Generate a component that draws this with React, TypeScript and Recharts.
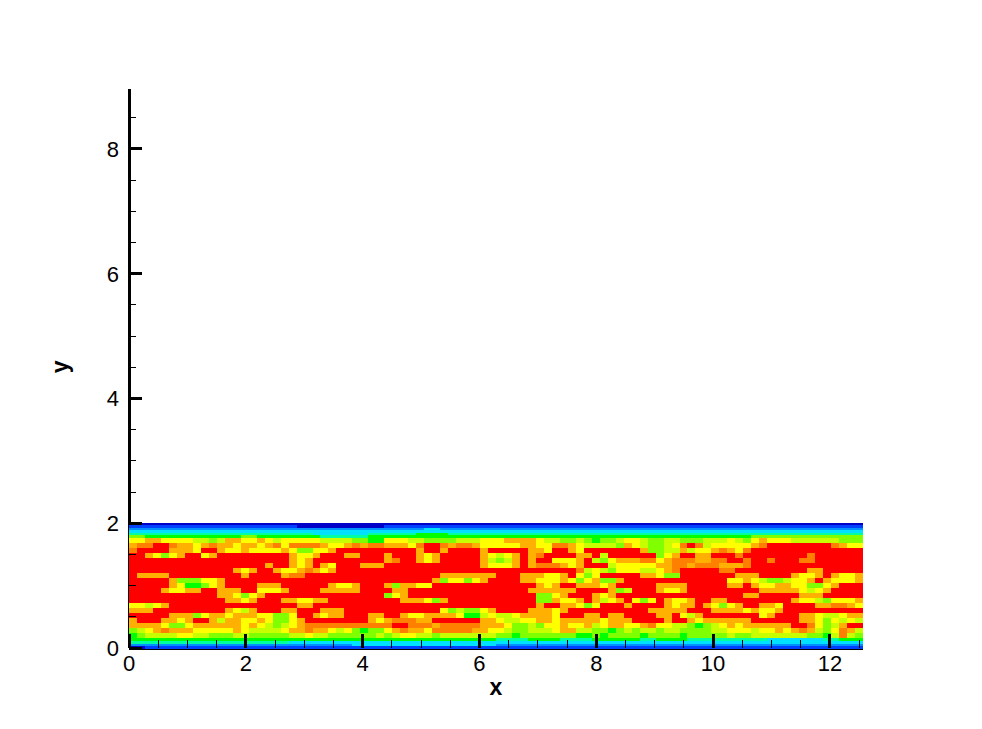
import React from 'react';
import { Scatter, ScatterChart, XAxis, YAxis } from 'recharts';

const CHART_WIDTH = 982;
const CHART_HEIGHT = 729;
const margins = { top: 89, right: 119, bottom: 80, left: 128 };
const PLOT_WIDTH = 734;
const PLOT_HEIGHT = 559;
const X_END = 12.566;
const Y_TOP = 8.96;
const COLUMNS = 92;
const FONT = '"Liberation Sans", Arial, sans-serif';

const xTicks = [0, 0.5, 1, 1.5, 2, 2.5, 3, 3.5, 4, 4.5, 5, 5.5, 6, 6.5, 7, 7.5, 8, 8.5, 9, 9.5, 10, 10.5, 11, 11.5, 12, 12.5];
const yTicks = [0, 0.5, 1, 1.5, 2, 2.5, 3, 3.5, 4, 4.5, 5, 5.5, 6, 6.5, 7, 7.5, 8, 8.5];

const levelColors: Record<string, string> = {
  D: '#0000c8',
  B: '#0040ff',
  Z: '#0090ff',
  C: '#00e0ff',
  S: '#00ffa0',
  G: '#00ff00',
  L: '#80ff00',
  K: '#c8ff00',
  Y: '#ffff00',
  A: '#ffb000',
  O: '#ff8000',
  R: '#ff0000',
};

// row boundaries from the top wall down to the bottom wall
const rowEdges = [
  2.0, 1.97, 1.93, 1.89, 1.85, 1.81, 1.76, 1.68, 1.6, 1.52, 1.44, 1.36, 1.28, 1.2, 1.12, 1.04, 0.96, 0.88, 0.8, 0.72,
  0.64, 0.56, 0.48, 0.4, 0.32, 0.24, 0.16, 0.11, 0.07, 0.04, 0.0,
];

// one string per row, one letter per column
const topWallRows = [
  'DDDDDDDDDD DDDDDDDDDD DDDDDDDDDD DDDDDDDDDD DDDDDDDDDD DDDDDDDDDD DDDDDDDDDD DDDDDDDDDD DD',
  'BBBBBBBBBB BBBBBBBBBB BDDDDDDDDD DDBBBBBBBB BBBBBBBBBB BBBBBBBBBB BBBBBBBBBB BBBBBBBBBB BB',
  'ZZZZZZZZZZ ZZZZZZZZZZ ZZZZZZZZZZ ZZZZZZZCCZ ZZZZZZZZZZ ZZZZZZZZZZ ZZZZZZZZZZ ZZZZZZZZZZ ZZ',
  'CCCCCCCCCC CCCCCCCCCC CCCCCCCCCC CCCCCCCCCC CCCCCCCCCC CCCCCCCCCC CCCCCCCCCC CCCCCCCCCC CC',
  'SSSSSSSSSS SSSSSSSSSS SSSCCCCCCC SSSSSSGGGG SSSSSSSSSS SSSSSSSSSS SSSSSSSSSS SSSSSSSSSS SS',
  'LLGGGGGGGG GGGGLLGGGG GGGGSSSSSS GGGGGGGGGG GGGGGGGGGG GGGGGGGGGG GGGGGGGGGG GGGGGGGGLL LL',
];

const coreRows = [
  'YYAAYYYYKK LKAAYYAYKY YYYYKKKKLL GG YYYKKLLLLK KKYYYAAAAY KKLLKLGLLK YYKLLKKLLL KKKYKLYAYY YKKKKKKLLL',
  'AOORROAAYA OAAYAAYAOY OOOOAYYAOA OO AAAYORROAO OAYYYYYAAY YOOAYKKKKL AYKLLKYORO KYYYYYAORR RRRRRROAYY',
  'ORRRRAAAYR RAYYAYYYYA YLLYYARRRR RR RRRRARRARR RRARRRRRAA YRRAYRRRRR RRALLKKAKY YAOAYORRRR RRRRRRRRRR',
  'RRAYLYARRY ARRRRRRRRR AYYARRRAAR RR ARRRAYARRR RRAYKYARAO RRRRAARKRR RRRRLYARRA ARRRORRRRR RRRORRRRRR',
  'RRRRRRRRRR RRRRRRRRRR AYARRRRRRR RR AORRAYARRR RRAKLKARAR RYYYARKLYA AAOOYAOOOA AOORRORROR RROORRRRRR',
  'RRRRRRRRRR RRRRRRRARR AYARAYRRRA AA RRRRRRRRRR RRAYYYARAO OOAYARRRKY YYYYAAOOAO OOAAAORRRR RRRRRRRRRR',
  'RRRRRRRRRR RRRAYARRAY YAOAYARRRR RR RRRRRRRRRR RRRRRRRRRR RRRROKYKLY YYKKYAORRR RROORRRRRR RRRAARRRRR',
  'RAAAARRRRR RRRRARRRRA OORRRRRRRR RR RRRRRRRAAA AAAARRRAAA YYARYLYRRR RRAAYLLRRR RRRRAAARRR RAYYARAYYA',
  'RRRRRALLLY YARRRRRRRR RRRRRRRRRR RR RRRRRRALYY LYARRRRAAY YYAYLYALLA RRRRRRRRRR RRRYYAYKLL KYYARAYYYA',
  'RRRRRAYGGL YARRRRAAAR RRRRRAYYAR RR ALAAYYRRRR RRRRRRRRRA YARRAAAYAR RRRRAAAARR RRRAARAYYA AYYLLYARRR',
  'RRRRAYYAAR RAAARRYYYA RRRRAAAAAR RR RAARRRRRRR RRRRRRRRAA AAAARRRRAL KRRRAYYARR RRRRRRRAAA AAYKYARRRR',
  'RRRRRRRRRR RAAYLYARRR RRRRRRRRRR RR LYARRRRRRR RRRRRRRRRL LYARRRAYAR RRRRRRRRRR RRRRRAARRR RRAAARRRRR',
  'RRRRRRRRRR RRAAYARRRA AYYAARRRRR RR RRAAAYLARR RRRRRRRRRL LAYYARAKYA RYLYRAYYAR RAARRRRRRR RAYYKLYYYA',
  'YYKYARRRRR RRRRRRRRRR RAARRRRRRR RR RRRRRRRRRR RRRRRRRRRA RRAAYLYRRR ARRRRAYAAR AYLYARRAAY RRRRAAOOAY',
  'AAARRRRRRR RRAYKARRRA ARRRAAARRR RR RRRRRRRYLK LLYARRRRAA AYARRRRRRR RRRAAAAARR RAAAAYAYYA RRRRRRRRRR',
  'RRRRRAAALY AAYAAAYYLL YRRAYAARRR AA RRAYYAAAAY GGKYKKYAAA AYRRRAARAA RRRRAARYKA RRRRRRRYAR RRAAYKKYAA',
  'ARRRAAYARR AKAAYYAYLL YARRRRRRRR AY AOOOAARRRR RRAAYKKYYA AYAAAAAYAA ARRRRARRAY AAAAAARRRR RRAAYLYKYK',
  'AAAAYLLYAA AAAAYAYKLK YAOOOOOOOO OO ORROOOAOOO OOAAAYLLKL YYAYYAKYAA YYAOYYKKLG LKYAYAAAAA ARROYLKARR',
  'LKYAOAAAYY YYYAYKKKKY AAOAAYKYLG LL YAOAAYOOOO OAAYYKLLKK KYAAKKLLGL KLKKLKKLLL LKKYYYKYYA YAOAKLYOAK',
  'GLKKKKYYKK LLLKKLLLLL KKYKKLLLLL LK LKYYKKLKKK KKKKLLGLLL LLLLGGLGLL LLGLLLLGLL LLLKLLKKKK KKKLLGKOKL',
];

const bottomWallRows = [
  'GGGGGGGGGG GGGGGGGGGG GGGGGGGGGG GGGGGGGGGG GGGGGGSSSS GGGGSSSSGG GGGGSSGGGG SSSSSSSSSS CCCCCCCSSG GG',
  'SSSSSSSSSS SSSSSSSSSS CCCCCCCCCC CCCCCCCCCC CCCCCCCCCC CCCCCCCCCC CCCCCCCCCC CCCCCCCCCC CC',
  'ZZZZZZZZZZ ZZZZZZZZZZ ZZZZZZZZCC CCCCCCCCCC CCCCCCZZZZ ZZZZZZZZZZ ZZZZZZZZZZ ZZZZZZZZZZ ZZ',
  'DDBBBBBBBB BBBBBBBBBB BBBBBBBBBB BBBBBBBBBB BBBBBBBBBB BBBBBBBBBB BBBBBBBBBB BBBBBBBBBB BB',
];

const fieldRows = [...topWallRows, ...coreRows, ...bottomWallRows];

interface FieldCell {
  x: number;
  y: number;
  w: number;
  h: number;
  level: string;
}

const columnWidth = X_END / COLUMNS;

const buildCells = (): FieldCell[] => {
  const cells: FieldCell[] = [];
  fieldRows.forEach((raw, rowIndex) => {
    const row = raw.replace(/ /g, '').padEnd(COLUMNS, raw.trim().slice(-1)).slice(0, COLUMNS);
    const top = rowEdges[rowIndex];
    const bottom = rowEdges[rowIndex + 1];
    let start = 0;
    for (let i = 1; i <= COLUMNS; i++) {
      if (i === COLUMNS || row[i] !== row[start]) {
        cells.push({
          x: ((start + i) / 2) * columnWidth,
          y: (top + bottom) / 2,
          w: (i - start) * columnWidth,
          h: top - bottom,
          level: row[start],
        });
        start = i;
      }
    }
  });
  return cells;
};

const cells = buildCells();

const pxPerX = PLOT_WIDTH / X_END;
const pxPerY = PLOT_HEIGHT / Y_TOP;

const FieldCellShape = (props: any) => {
  const { cx, cy, payload } = props;
  const w = payload.w * pxPerX;
  const h = payload.h * pxPerY;
  return (
    <rect
      x={cx - w / 2}
      y={cy - h / 2}
      width={w}
      height={h + 0.5}
      fill={levelColors[payload.level]}
      shapeRendering="crispEdges"
    />
  );
};

const XTick = (props: any) => {
  const { x, y, payload } = props;
  const major = payload.value % 2 === 0;
  return (
    <g>
      <line
        x1={x}
        x2={x}
        y1={y}
        y2={y - (major ? 14 : 8)}
        stroke="#000"
        strokeWidth={major ? 3 : 1}
        shapeRendering="crispEdges"
      />
      {major && (
        <text x={x} y={y + 23} textAnchor="middle" fontFamily={FONT} fontSize={22} fill="#000">
          {payload.value}
        </text>
      )}
    </g>
  );
};

const YTick = (props: any) => {
  const { x, y, payload } = props;
  const major = payload.value % 2 === 0;
  return (
    <g>
      <line
        x1={x}
        x2={x + (major ? 13 : 7)}
        y1={y}
        y2={y}
        stroke="#000"
        strokeWidth={major ? 3 : 1}
        shapeRendering="crispEdges"
      />
      {major && (
        <text x={x - 10} y={y + 8} textAnchor="end" fontFamily={FONT} fontSize={22} fill="#000">
          {payload.value}
        </text>
      )}
    </g>
  );
};

const axisLine = { stroke: '#000', strokeWidth: 3, shapeRendering: 'crispEdges' };
const titleStyle = { fontFamily: FONT, fontSize: 23, fontWeight: 700, fill: '#000' };

export default function App() {
  return (
    <div style={{ position: 'absolute', left: 0, top: 0, width: CHART_WIDTH, height: CHART_HEIGHT, background: '#fff' }}>
      <ScatterChart width={CHART_WIDTH} height={CHART_HEIGHT} margin={margins}>
        <Scatter data={cells} shape={FieldCellShape} isAnimationActive={false} />
        <XAxis
          type="number"
          dataKey="x"
          domain={[0, X_END]}
          ticks={xTicks}
          interval={0}
          height={1}
          tickSize={0}
          tickMargin={0}
          tickLine={false}
          axisLine={axisLine}
          tick={XTick}
          label={{ value: 'x', position: 'bottom', offset: 30, style: titleStyle }}
        />
        <YAxis
          type="number"
          dataKey="y"
          domain={[0, Y_TOP]}
          ticks={yTicks}
          interval={0}
          width={1}
          tickSize={0}
          tickMargin={0}
          tickLine={false}
          axisLine={axisLine}
          tick={YTick}
          label={{ value: 'y', position: 'left', angle: -90, offset: 68, dy: -8, style: titleStyle }}
        />
      </ScatterChart>
    </div>
  );
}
